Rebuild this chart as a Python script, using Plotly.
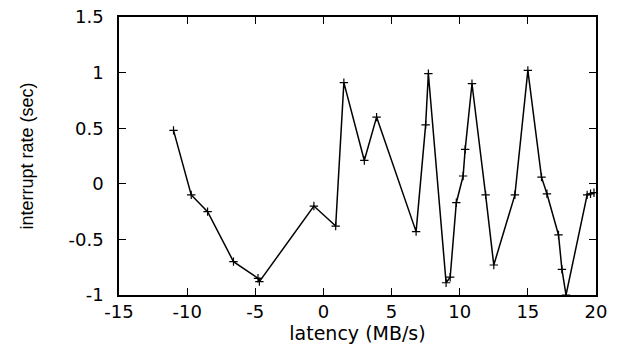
import plotly.graph_objects as go

latency = [-11.0, -9.7, -8.5, -6.6, -4.8, -4.7, -0.7, 0.9, 1.5, 3.0, 3.9,
           6.8, 7.5, 7.7, 9.0, 9.3, 9.75, 10.25, 10.4, 10.9, 11.9, 12.5,
           14.05, 15.0, 16.0, 16.4, 17.25, 17.5, 17.8, 19.35, 19.6, 19.85]
interrupt = [0.48, -0.10, -0.25, -0.70, -0.85, -0.88, -0.20, -0.38, 0.91, 0.21, 0.60,
             -0.43, 0.53, 0.99, -0.89, -0.84, -0.17, 0.07, 0.31, 0.90, -0.10, -0.73,
             -0.10, 1.02, 0.06, -0.09, -0.46, -0.77, -1.00, -0.10, -0.09, -0.08]

x_ticks = [-15, -10, -5, 0, 5, 10, 15, 20]
y_ticks = [-1, -0.5, 0, 0.5, 1, 1.5]
y_tick_text = ["-1", "-0.5", "0", "0.5", "1", "1.5"]

tick_font = dict(family="DejaVu Sans, sans-serif", size=18, color="black")
xtitle_font = dict(family="DejaVu Sans, sans-serif", size=19, color="black")
ytitle_font = dict(family="Liberation Sans, Arial, sans-serif", size=18, color="black")

fig = go.Figure(go.Scatter(
    x=latency, y=interrupt, mode="lines+markers",
    line=dict(color="black", width=1.5),
    marker=dict(symbol="cross-thin", size=6, line=dict(color="black", width=1.2)),
    showlegend=False,
))

axis_common = dict(showline=True, linecolor="black", linewidth=1.5, mirror="ticks",
                   ticks="inside", ticklen=7, tickwidth=1, tickcolor="black",
                   showgrid=False, zeroline=False, tickfont=tick_font, automargin=False,
                   ticklabeloverflow="allow")

fig.update_xaxes(range=[-15, 20], tickvals=x_ticks, ticktext=[str(v) for v in x_ticks],
                 title=dict(text="latency (MB/s)", font=xtitle_font, standoff=4),
                 ticklabelstandoff=0, **axis_common)
fig.update_yaxes(range=[-1, 1.5], tickvals=y_ticks, ticktext=y_tick_text,
                 title=dict(text="interrupt rate (sec)", font=ytitle_font, standoff=30),
                 ticklabelstandoff=10, **axis_common)

fig.update_layout(width=626, height=351, margin=dict(l=119, r=30, t=17, b=56),
                  plot_bgcolor="white", paper_bgcolor="white", template="none")

fig.write_html("out.html", config={"displayModeBar": False},
               post_script="document.body.style.margin='0';document.body.style.padding='0';")
